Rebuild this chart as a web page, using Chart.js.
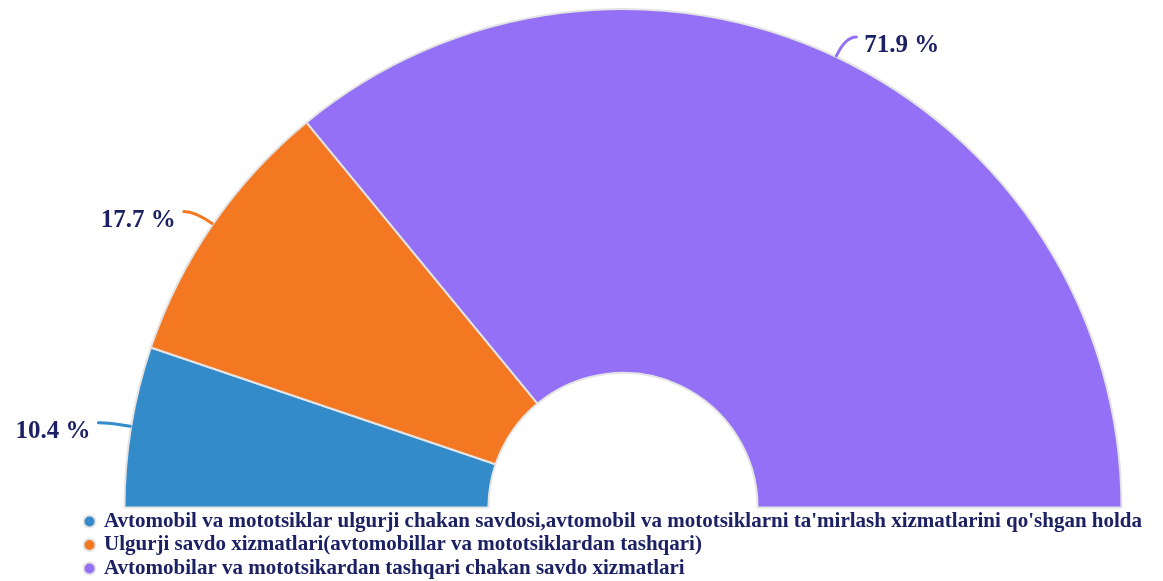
<!DOCTYPE html>
<html lang="uz">
<head>
    <meta charset="UTF-8">
    <title>Savdo xizmatlari</title>
    <script src="https://cdn.jsdelivr.net/npm/chart.js"></script>
    <style>
        body { margin: 0; background: #fff; }
        .grafico { width: 1163px; height: 581px; }
    </style>
</head>
<body>
<div class="grafico">
    <canvas id="myChart"></canvas>
</div>

<script>
    const categorias = [
        "Avtomobil va mototsiklar ulgurji chakan savdosi,avtomobil va mototsiklarni ta'mirlash xizmatlarini qo'shgan holda",
        "Ulgurji savdo xizmatlari(avtomobillar va mototsiklardan tashqari)",
        "Avtomobilar va mototsikardan tashqari chakan savdo xizmatlari"
    ];
    const valores = [10.4, 17.7, 71.9];
    const cores = ['#338bc9', '#f47721', '#9370f5'];

    const corTexto = '#1c2163';
    const fonte = "'Liberation Serif', 'Times New Roman', serif";

    // rótulos com linha de chamada fora do arco
    const rotulos = {
        id: 'rotulos',
        afterDatasetsDraw(chart) {
            const ctx = chart.ctx;
            const meta = chart.getDatasetMeta(0);
            ctx.save();
            meta.data.forEach((arco, i) => {
                const p = arco.getProps(['x', 'y', 'startAngle', 'endAngle', 'outerRadius'], true);
                const meio = (p.startAngle + p.endAngle) / 2;
                const c = Math.cos(meio), s = Math.sin(meio);
                const lado = c < 0 ? -1 : 1;
                const x0 = p.x + c * (p.outerRadius + 1), y0 = p.y + s * (p.outerRadius + 1);
                const x1 = p.x + c * (p.outerRadius + 22), y1 = p.y + s * (p.outerRadius + 22);
                const x2 = x1 + lado * 11, y2 = y1;

                ctx.strokeStyle = cores[i];
                ctx.lineWidth = 3;
                ctx.lineCap = 'round';
                ctx.beginPath();
                ctx.moveTo(x0, y0);
                ctx.quadraticCurveTo(x1, y1, x2, y2);
                ctx.stroke();

                ctx.fillStyle = corTexto;
                ctx.font = "bold 25px " + fonte;
                ctx.textBaseline = 'middle';
                ctx.textAlign = lado < 0 ? 'right' : 'left';
                ctx.fillText(valores[i].toFixed(1) + ' %', x2 + lado * 8, y2 + 9);
            });
            ctx.restore();
        }
    };

    new Chart(document.getElementById('myChart'), {
        type: 'doughnut',
        data: {
            labels: categorias,
            datasets: [{
                data: valores,
                backgroundColor: cores,
                borderColor: '#e4e4e4',
                borderWidth: 2,
                hoverOffset: 0
            }]
        },
        options: {
            responsive: true,
            maintainAspectRatio: false,
            animation: false,
            rotation: -90,
            circumference: 180,
            cutout: '27%',
            layout: { padding: { top: 8, left: 83, right: 0, bottom: -8 } },
            plugins: {
                tooltip: { enabled: false },
                legend: {
                    position: 'bottom',
                    align: 'start',
                    labels: {
                        usePointStyle: true,
                        pointStyle: 'circle',
                        boxWidth: 8,
                        boxHeight: 8.5,
                        padding: 2.5,
                        color: corTexto,
                        font: { family: fonte, size: 21, weight: 'bold' }
                    }
                }
            }
        },
        plugins: [rotulos]
    });
</script>
</body>
</html>
